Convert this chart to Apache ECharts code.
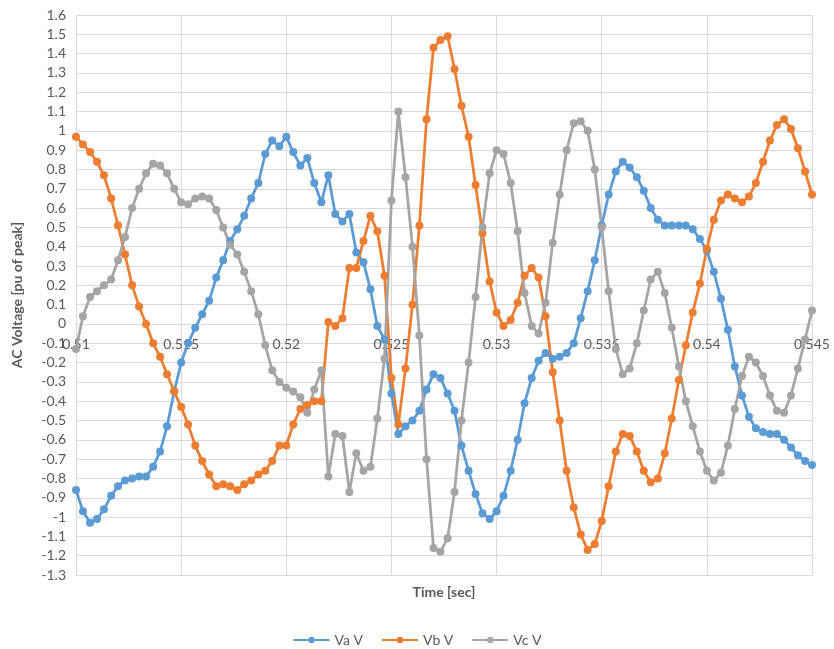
<!DOCTYPE html>
<html>
<head>
<meta charset="utf-8">
<script src="https://cdn.jsdelivr.net/npm/echarts@6/dist/echarts.min.js"></script>
<style>
  html, body { margin: 0; padding: 0; background: #ffffff; }
  #chart { width: 834px; height: 649px; }
</style>
</head>
<body>
<div id="chart"></div>
<script>
// Sample times [sec]
const timeSec = [
  0.51,0.51033,0.51067,0.511,0.51133,0.51167,0.512,0.51233,0.51267,0.513,0.51333,0.51367,0.514,0.51433,0.51467,0.515,
  0.51533,0.51567,0.516,0.51633,0.51667,0.517,0.51733,0.51767,0.518,0.51833,0.51867,0.519,0.51933,0.51967,0.52,
  0.52033,0.52067,0.521,0.52133,0.52167,0.522,0.52233,0.52267,0.523,0.52333,0.52367,0.524,0.52433,0.52467,0.525,
  0.52533,0.52567,0.526,0.52633,0.52667,0.527,0.52733,0.52767,0.528,0.52833,0.52867,0.529,0.52933,0.52967,0.53,
  0.53033,0.53067,0.531,0.53133,0.53167,0.532,0.53233,0.53267,0.533,0.53333,0.53367,0.534,0.53433,0.53467,0.535,
  0.53533,0.53567,0.536,0.53633,0.53667,0.537,0.53733,0.53767,0.538,0.53833,0.53867,0.539,0.53933,0.53967,0.54,
  0.54033,0.54067,0.541,0.54133,0.54167,0.542,0.54233,0.54267,0.543,0.54333,0.54367,0.544,0.54433,0.54467,0.545
];

const vaV = [
  -0.86,-0.97,-1.03,-1.01,-0.96,-0.89,-0.84,-0.81,-0.80,-0.79,
  -0.79,-0.74,-0.66,-0.53,-0.35,-0.20,-0.10,-0.02,0.05,0.12,
  0.24,0.33,0.43,0.49,0.56,0.65,0.73,0.88,0.95,0.92,
  0.97,0.89,0.82,0.86,0.73,0.63,0.77,0.57,0.53,0.57,
  0.37,0.32,0.18,-0.01,-0.08,-0.36,-0.57,-0.53,-0.50,-0.45,
  -0.34,-0.26,-0.28,-0.36,-0.45,-0.63,-0.76,-0.88,-0.98,-1.01,
  -0.97,-0.89,-0.76,-0.60,-0.41,-0.28,-0.19,-0.15,-0.18,-0.17,
  -0.15,-0.10,0.03,0.17,0.33,0.51,0.67,0.79,0.84,0.81,
  0.76,0.69,0.60,0.54,0.51,0.51,0.51,0.51,0.49,0.44,
  0.38,0.27,0.13,-0.03,-0.22,-0.37,-0.48,-0.54,-0.56,-0.57,
  -0.57,-0.60,-0.64,-0.68,-0.71,-0.73
];

const vbV = [
  0.97,0.93,0.89,0.84,0.77,0.65,0.51,0.36,0.20,0.09,
  0.00,-0.10,-0.17,-0.26,-0.35,-0.43,-0.52,-0.63,-0.71,-0.78,
  -0.84,-0.83,-0.84,-0.86,-0.83,-0.81,-0.78,-0.76,-0.71,-0.63,
  -0.63,-0.52,-0.44,-0.42,-0.40,-0.40,0.01,-0.01,0.03,0.29,
  0.29,0.43,0.56,0.48,0.25,-0.28,-0.52,-0.23,0.10,0.51,
  1.06,1.43,1.47,1.49,1.32,1.13,0.97,0.72,0.47,0.22,
  0.06,-0.01,0.02,0.11,0.25,0.29,0.24,0.04,-0.25,-0.50,
  -0.76,-0.95,-1.09,-1.17,-1.14,-1.02,-0.84,-0.66,-0.57,-0.58,
  -0.66,-0.76,-0.82,-0.80,-0.67,-0.49,-0.29,-0.11,0.06,0.21,
  0.39,0.54,0.64,0.67,0.65,0.63,0.66,0.73,0.84,0.95,
  1.03,1.06,1.01,0.91,0.79,0.67
];

const vcV = [
  -0.13,0.04,0.14,0.17,0.20,0.23,0.33,0.45,0.60,0.70,
  0.78,0.83,0.82,0.78,0.70,0.63,0.62,0.65,0.66,0.65,
  0.59,0.50,0.41,0.36,0.27,0.17,0.05,-0.11,-0.24,-0.30,
  -0.33,-0.35,-0.38,-0.46,-0.34,-0.24,-0.79,-0.57,-0.58,-0.87,
  -0.67,-0.76,-0.74,-0.49,-0.18,0.64,1.10,0.76,0.40,-0.06,
  -0.70,-1.16,-1.18,-1.11,-0.87,-0.50,-0.20,0.14,0.50,0.78,
  0.90,0.88,0.73,0.48,0.16,-0.01,-0.05,0.11,0.42,0.67,
  0.90,1.04,1.05,1.00,0.80,0.50,0.17,-0.13,-0.26,-0.23,
  -0.10,0.07,0.23,0.27,0.16,-0.02,-0.22,-0.40,-0.53,-0.66,
  -0.76,-0.81,-0.77,-0.63,-0.44,-0.27,-0.17,-0.20,-0.27,-0.37,
  -0.45,-0.46,-0.37,-0.23,-0.08,0.07
];

const seriesNames = ['Va V', 'Vb V', 'Vc V'];
const seriesColors = ['#5B9BD5', '#ED7D31', '#A5A5A5'];
const xTitle = 'Time [sec]';
const yTitle = 'AC Voltage [pu of peak]';

const FONT = 'Lato, "Open Sans", sans-serif';
const TXT = '#595959';

const GRID_TOP = 15, GRID_BOTTOM = 74, CHART_H = 649;
const Y_MIN = -1.3, Y_MAX = 1.6;
// Move the x axis (line + labels) up to the y = 0 level, as in the reference
const plotH = CHART_H - GRID_TOP - GRID_BOTTOM;
const zeroOffset = -plotH * (0 - Y_MIN) / (Y_MAX - Y_MIN);

function pairs(vals) { return vals.map((v, i) => [timeSec[i], v]); }

const chart = echarts.init(document.getElementById('chart'), null, { renderer: 'canvas' });
chart.setOption({
  animation: false,
  backgroundColor: '#ffffff',
  grid: { left: 76, right: 22, top: GRID_TOP, bottom: GRID_BOTTOM, containLabel: false },
  xAxis: {
    type: 'value',
    min: 0.51, max: 0.545, interval: 0.005,
    offset: zeroOffset,
    axisLine: { show: true, onZero: false, lineStyle: { color: '#D9D9D9', width: 1 } },
    axisTick: { show: false },
    axisLabel: {
      color: TXT, fontFamily: FONT, fontSize: 14, margin: 14,
      formatter: v => String(+v.toFixed(3))
    },
    splitLine: { show: true, lineStyle: { color: '#D9D9D9', width: 1 } }
  },
  yAxis: {
    type: 'value',
    min: Y_MIN, max: Y_MAX, interval: 0.1,
    name: yTitle, nameLocation: 'middle', nameGap: 52,
    nameTextStyle: { color: TXT, fontFamily: FONT, fontSize: 14, fontWeight: 'bold' },
    axisLine: { show: false },
    axisTick: { show: false },
    axisLabel: {
      color: TXT, fontFamily: FONT, fontSize: 14, margin: 10,
      formatter: v => String(+v.toFixed(1))
    },
    splitLine: { show: true, lineStyle: { color: '#D9D9D9', width: 1 } }
  },
  legend: {
    top: 628, left: 'center',
    itemWidth: 36, itemHeight: 8, itemGap: 18,
    textStyle: { color: TXT, fontFamily: FONT, fontSize: 14 },
    data: seriesNames
  },
  graphic: [{
    type: 'text', x: 444, y: 592,
    style: { text: xTitle, fill: TXT, font: 'bold 14px ' + FONT, align: 'center', verticalAlign: 'middle' }
  }],
  series: [vaV, vbV, vcV].map((vals, i) => ({
    name: seriesNames[i],
    type: 'line',
    data: pairs(vals),
    symbol: 'circle',
    symbolSize: 8,
    showAllSymbol: true,
    color: seriesColors[i],
    lineStyle: { width: 2.75, color: seriesColors[i] },
    itemStyle: { color: seriesColors[i] }
  }))
});
</script>
</body>
</html>
